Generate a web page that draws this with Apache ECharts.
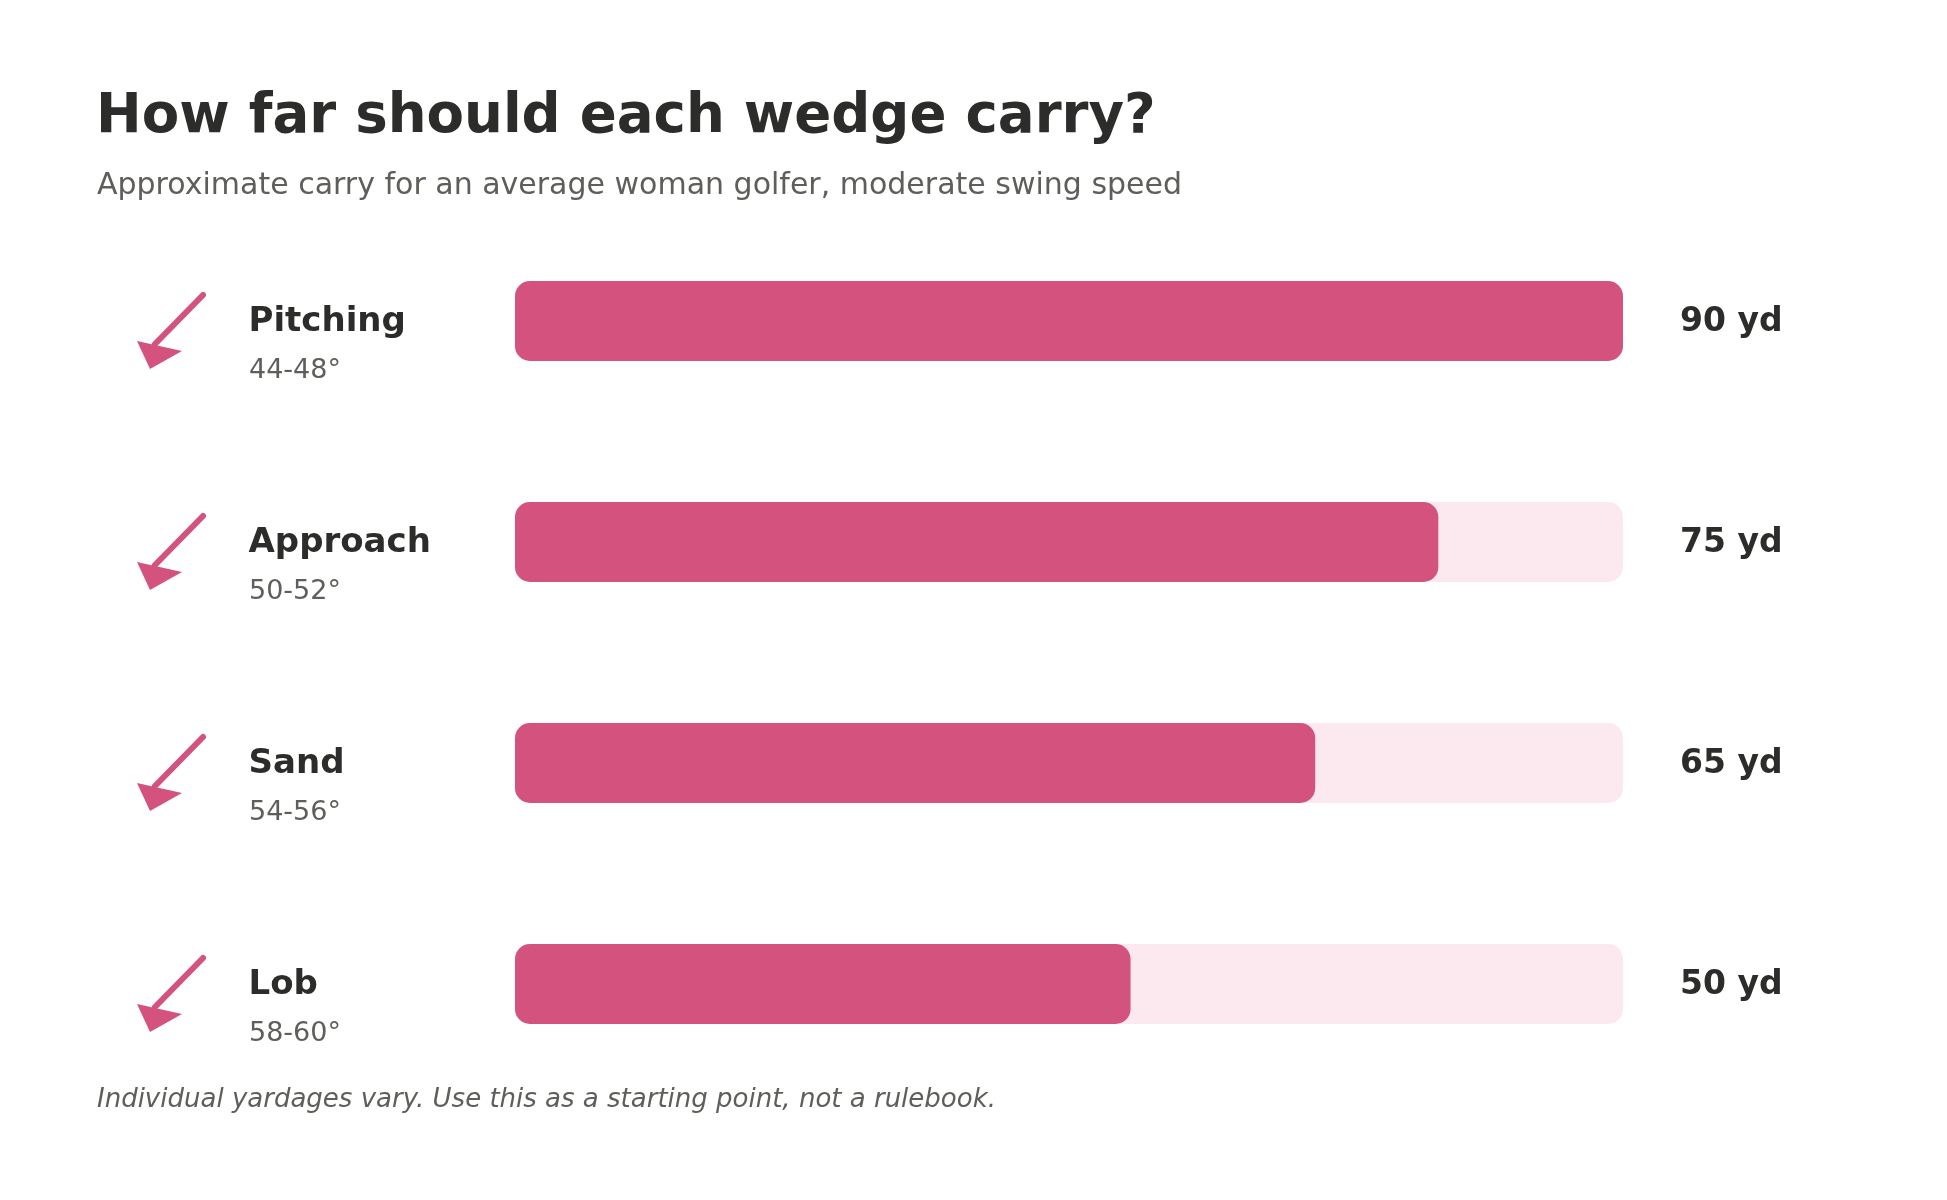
<!DOCTYPE html>
<html lang="en">
<head>
<meta charset="utf-8">
<title>Wedge carry</title>
<script src="https://cdn.jsdelivr.net/npm/echarts@6/dist/echarts.min.js"></script>
<style>
  html, body { margin: 0; padding: 0; background: #fff; }
  #main { width: 1947px; height: 1200px; }
</style>
</head>
<body>
<div id="main"></div>
<script>
// data
var wedges = ['Pitching', 'Approach', 'Sand', 'Lob'];
var lofts = ['44-48°', '50-52°', '54-56°', '58-60°'];
var carry = [90, 75, 65, 50];
var trackMax = 90;

var pink = '#d4537e';
var pinkLight = '#fbe9ef';
var ink = '#2c2c2a';
var grey = '#5f5e5a';
var font = '"DejaVu Sans", sans-serif';

var track = wedges.map(function () { return trackMax; });

var option = {
  animation: false,
  backgroundColor: '#ffffff',
  title: [{
    text: 'How far should each wedge carry?',
    left: 91,
    top: 85,
    textStyle: { fontFamily: font, fontSize: 54.6, fontWeight: 'bold', color: ink }
  }, {
    text: 'Approximate carry for an average woman golfer, moderate swing speed',
    left: 92,
    top: 166,
    textStyle: { fontFamily: font, fontSize: 30, fontWeight: 'normal', color: grey }
  }, {
    text: 'Individual yardages vary. Use this as a starting point, not a rulebook.',
    left: 92,
    top: 1082,
    textStyle: { fontFamily: font, fontSize: 26, fontWeight: 'normal', fontStyle: 'italic', color: grey }
  }],
  grid: { left: 515, right: 324, top: 210.5, bottom: 105.5 },
  xAxis: { type: 'value', min: 0, max: trackMax, show: false },
  yAxis: { type: 'category', data: wedges, inverse: true, show: false },
  series: [{
    name: 'track',
    type: 'bar',
    data: track,
    barWidth: 80,
    barGap: '-100%',
    silent: true,
    itemStyle: { color: pinkLight, borderRadius: 15 },
    label: {
      show: true,
      position: 'right',
      distance: 57,
      offset: [0, 1.5],
      formatter: function (p) { return carry[p.dataIndex] + ' yd'; },
      fontFamily: font,
      fontSize: 33,
      fontWeight: 'bold',
      color: ink
    }
  }, {
    name: 'carry',
    type: 'bar',
    data: carry,
    barWidth: 80,
    itemStyle: { color: pink, borderRadius: 15 }
  }, {
    name: 'names',
    type: 'custom',
    silent: true,
    data: wedges.map(function (w, i) { return [0, i]; }),
    encode: { x: 0, y: 1 },
    renderItem: function (params, api) {
      var i = api.value(1);
      var y = api.coord([0, i])[1];
      return {
        type: 'group',
        children: [{
          type: 'polyline',
          shape: { points: [[203, y - 26], [155, y + 23]] },
          style: { stroke: pink, lineWidth: 6, lineCap: 'round', fill: null }
        }, {
          type: 'polygon',
          shape: { points: [[137, y + 20], [182, y + 30], [150, y + 48]] },
          style: { fill: pink }
        }, {
          type: 'text',
          style: {
            x: 248.5, y: y + 1.5,
            text: wedges[i],
            fontFamily: font, fontSize: 34, fontWeight: 'bold',
            fill: ink, verticalAlign: 'middle', align: 'left'
          }
        }, {
          type: 'text',
          style: {
            x: 249, y: y + 50,
            text: lofts[i],
            fontFamily: font, fontSize: 27,
            fill: grey, verticalAlign: 'middle', align: 'left'
          }
        }]
      };
    }
  }]
};

var chart = echarts.init(document.getElementById('main'));
chart.setOption(option);
window.addEventListener('resize', function () { chart.resize(); });
</script>
</body>
</html>
